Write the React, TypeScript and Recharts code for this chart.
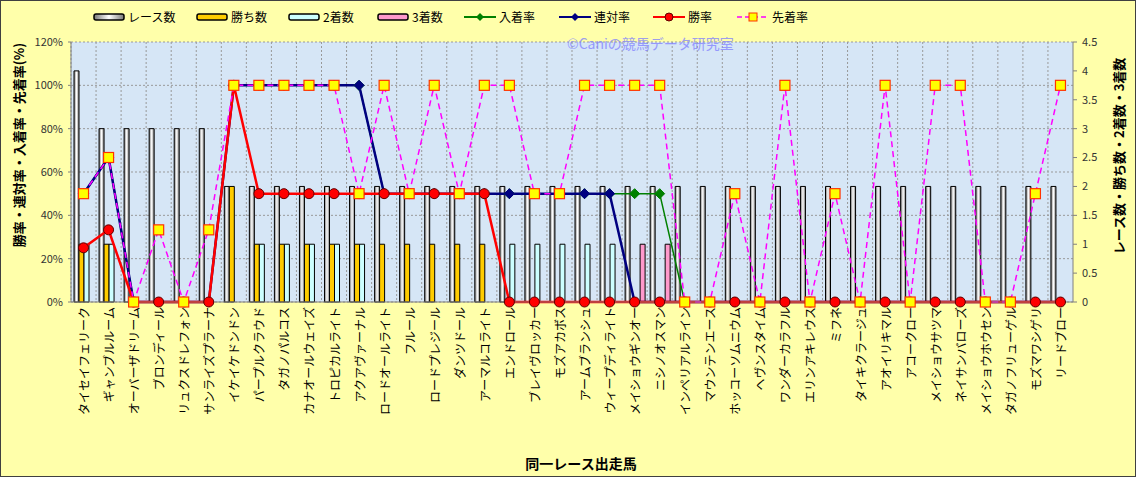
import React from "react";
import {
  Bar,
  CartesianGrid,
  ComposedChart,
  Legend,
  Line,
  XAxis,
  YAxis,
} from "recharts";

const horses = [
  "タイセイフェリーク",
  "ギャンブルルーム",
  "オーバーザドリーム",
  "ブロンディール",
  "リュクスドレフォン",
  "サンライズプラーナ",
  "イケイケドンドン",
  "パープルクラウド",
  "タガノパルコス",
  "カナオールウェイズ",
  "トロピカルライト",
  "アクアヴァーナル",
  "ロードオールライト",
  "フルール",
  "ロードプレジール",
  "ダンツドール",
  "アーマルコライト",
  "エンドロール",
  "ブレイヴロッカー",
  "モズアカボス",
  "アームブランシュ",
  "ウィープディライト",
  "メイショウギンオー",
  "ニシノオスマン",
  "インペリアルライン",
  "マウンテンエース",
  "ホッコーソムニウム",
  "ヘヴンスタイム",
  "ワンダーカラフル",
  "エリンアキレウス",
  "ミフネ",
  "タイキクラージュ",
  "アオイリキマル",
  "アコークロー",
  "メイショウサツマ",
  "ネイサンバローズ",
  "メイショウホウセン",
  "タガノフリューゲル",
  "モズマワシゲリ",
  "リードブロー",
];

// counts (right axis)
const raceCounts = [4, 3, 3, 3, 3, 3, 2, 2, 2, 2, 2, 2, 2, 2, 2, 2, 2, 2, 2, 2, 2, 2, 2, 2, 2, 2, 2, 2, 2, 2, 2, 2, 2, 2, 2, 2, 2, 2, 2, 2];
const winCounts = [1, 1, 0, 0, 0, 0, 2, 1, 1, 1, 1, 1, 1, 1, 1, 1, 1, 0, 0, 0, 0, 0, 0, 0, 0, 0, 0, 0, 0, 0, 0, 0, 0, 0, 0, 0, 0, 0, 0, 0];
const secondCounts = [1, 1, 0, 0, 0, 0, 0, 1, 1, 1, 1, 1, 0, 0, 0, 0, 0, 1, 1, 1, 1, 1, 0, 0, 0, 0, 0, 0, 0, 0, 0, 0, 0, 0, 0, 0, 0, 0, 0, 0];
const thirdCounts = [0, 0, 0, 0, 0, 0, 0, 0, 0, 0, 0, 0, 0, 0, 0, 0, 0, 0, 0, 0, 0, 0, 1, 1, 0, 0, 0, 0, 0, 0, 0, 0, 0, 0, 0, 0, 0, 0, 0, 0];

// rates in % (left axis)
const placeRate = [50, 66.7, 0, 0, 0, 0, 100, 100, 100, 100, 100, 100, 50, 50, 50, 50, 50, 50, 50, 50, 50, 50, 50, 50, 0, 0, 0, 0, 0, 0, 0, 0, 0, 0, 0, 0, 0, 0, 0, 0];
const rentaiRate = [50, 66.7, 0, 0, 0, 0, 100, 100, 100, 100, 100, 100, 50, 50, 50, 50, 50, 50, 50, 50, 50, 50, 0, 0, 0, 0, 0, 0, 0, 0, 0, 0, 0, 0, 0, 0, 0, 0, 0, 0];
const winRate = [25, 33.3, 0, 0, 0, 0, 100, 50, 50, 50, 50, 50, 50, 50, 50, 50, 50, 0, 0, 0, 0, 0, 0, 0, 0, 0, 0, 0, 0, 0, 0, 0, 0, 0, 0, 0, 0, 0, 0, 0];
const aheadRate = [50, 66.7, 0, 33.3, 0, 33.3, 100, 100, 100, 100, 100, 50, 100, 50, 100, 50, 100, 100, 50, 50, 100, 100, 100, 100, 0, 0, 50, 0, 100, 0, 50, 0, 100, 0, 100, 100, 0, 0, 50, 100];

const leftTicks = [0, 20, 40, 60, 80, 100, 120];
const rightTicks = [0, 0.5, 1, 1.5, 2, 2.5, 3, 3.5, 4, 4.5];

const data = horses.map((name, i) => ({
  name,
  races: raceCounts[i],
  wins: winCounts[i],
  seconds: secondCounts[i],
  thirds: thirdCounts[i],
  place: placeRate[i],
  rentai: rentaiRate[i],
  win: winRate[i],
  ahead: aheadRate[i],
}));

const FONT = '"Noto Sans CJK JP", "Noto Sans", sans-serif';

function RedDot(p: any) {
  if (p.cx == null || p.cy == null) return null;
  return <circle key={p.index} cx={p.cx} cy={p.cy} r={5} fill="#ff0000" stroke="#600000" strokeWidth={1} />;
}

function diamond(color: string, r: number) {
  return (p: any) => {
    if (p.cx == null || p.cy == null) return null;
    const { cx, cy } = p;
    return (
      <polygon
        key={p.index}
        points={`${cx},${cy - r} ${cx + r},${cy} ${cx},${cy + r} ${cx - r},${cy}`}
        fill={color}
        stroke={color}
      />
    );
  };
}

function SquareDot(p: any) {
  if (p.cx == null || p.cy == null) return null;
  return (
    <rect key={p.index} x={p.cx - 5} y={p.cy - 5} width={10} height={10} fill="#ffff00" stroke="#ff3300" strokeWidth={1.2} />
  );
}

function NameTick({ x, y, payload }: any) {
  return (
    <text
      x={x}
      y={y}
      transform={`rotate(-90 ${x} ${y})`}
      textAnchor="end"
      dominantBaseline="central"
      fontSize={12}
      fontFamily={FONT}
      fill="#000"
    >
      {payload.value}
    </text>
  );
}

const legendItems = [
  { label: "レース数", kind: "bar", fill: "url(#raceGrad)", left: 93 },
  { label: "勝ち数", kind: "bar", fill: "#ffcc00", left: 196 },
  { label: "2着数", kind: "bar", fill: "#ccffff", left: 288 },
  { label: "3着数", kind: "bar", fill: "#ff99cc", left: 377 },
  { label: "入着率", kind: "diamond", color: "#008000", left: 464 },
  { label: "連対率", kind: "diamond", color: "#000080", left: 559 },
  { label: "勝率", kind: "circle", color: "#ff0000", left: 653 },
  { label: "先着率", kind: "square", color: "#ff00ff", left: 737 },
];

function LegendIcon({ item }: any) {
  if (item.kind === "bar") {
    return (
      <svg width={32} height={12}>
        <defs>
          <linearGradient id="raceGradL" x1="0" y1="0" x2="1" y2="0">
            <stop offset="0%" stopColor="#777" />
            <stop offset="50%" stopColor="#fff" />
            <stop offset="100%" stopColor="#777" />
          </linearGradient>
        </defs>
        <rect x={1} y={3} width={30} height={6} rx={2} fill={item.fill === "url(#raceGrad)" ? "url(#raceGradL)" : item.fill} stroke="#000" strokeWidth={1.5} />
      </svg>
    );
  }
  return (
    <svg width={32} height={12}>
      <line x1={0} y1={6} x2={32} y2={6} stroke={item.color} strokeWidth={item.kind === "square" ? 1.5 : 2} strokeDasharray={item.kind === "square" ? "5 3" : undefined} />
      {item.kind === "diamond" && <polygon points="16,2 20,6 16,10 12,6" fill={item.color} />}
      {item.kind === "circle" && <circle cx={16} cy={6} r={4} fill="#ff0000" stroke="#600000" />}
      {item.kind === "square" && <rect x={12} y={2} width={8} height={8} fill="#ffff00" stroke="#ff3300" />}
    </svg>
  );
}

function LegendContent() {
  return (
    <div style={{ position: "relative", width: 1136, height: 20 }}>
      {legendItems.map((item) => (
        <div
          key={item.label}
          style={{ position: "absolute", left: item.left, top: 0, display: "flex", alignItems: "center", gap: 3, fontSize: 12, fontFamily: FONT, color: "#000", whiteSpace: "nowrap" }}
        >
          <LegendIcon item={item} />
          <span>{item.label}</span>
        </div>
      ))}
    </div>
  );
}

export default function App() {
  return (
    <div
      style={{
        position: "absolute",
        left: 0,
        top: 0,
        width: 1136,
        height: 477,
        background: "#ffffaa",
        boxShadow: "inset 0 0 0 1px #404040",
        fontFamily: FONT,
      }}
    >
      <ComposedChart
        width={1136}
        height={477}
        data={data}
        margin={{ top: 42, right: 0, bottom: 0, left: 0 }}
        barGap={0}
        barSize={5}
      >
        <defs>
          <linearGradient id="raceGrad" x1="0" y1="0" x2="1" y2="0">
            <stop offset="0%" stopColor="#777" />
            <stop offset="50%" stopColor="#fff" />
            <stop offset="100%" stopColor="#777" />
          </linearGradient>
        </defs>
        <CartesianGrid
          yAxisId="left"
          fill="#d6e6f6"
          fillOpacity={1}
          stroke="#999"
          strokeDasharray="2 2"
          verticalCoordinatesGenerator={({ offset }: any) =>
            horses.map((_, i) => offset.left + (offset.width * i) / horses.length)
          }
        />
        <XAxis
          dataKey="name"
          interval={0}
          height={175}
          tickSize={4}
          tickMargin={1}
          tickLine={false}
          axisLine={{ stroke: "#808080" }}
          tick={<NameTick />}
          label={{
            value: "同一レース出走馬",
            content: () => (
              <text x={581} y={463} textAnchor="middle" dominantBaseline="central" fontSize={14} fontWeight="bold" fontFamily={FONT} fill="#000">
                同一レース出走馬
              </text>
            ),
          }}
        />
        <YAxis
          yAxisId="left"
          width={71}
          domain={[0, 120]}
          ticks={leftTicks}
          tickFormatter={(v) => `${v}%`}
          tick={{ fontSize: 11, fill: "#333", fontFamily: FONT }}
          tickSize={3}
          tickMargin={5}
          tickLine={{ stroke: "#808080" }}
          axisLine={{ stroke: "#808080" }}
          label={{
            value: "勝率・連対率・入着率・先着率(%)",
            content: () => (
              <text x={18} y={145} transform="rotate(-90 18 145)" textAnchor="middle" dominantBaseline="central" fontSize={13} fontWeight="bold" fontFamily={FONT} fill="#000">
                勝率・連対率・入着率・先着率(%)
              </text>
            ),
          }}
        />
        <YAxis
          yAxisId="right"
          orientation="right"
          width={63}
          domain={[0, 4.5]}
          ticks={rightTicks}
          tick={{ fontSize: 11, fill: "#333", fontFamily: FONT }}
          tickSize={4}
          tickMargin={5}
          tickLine={{ stroke: "#808080" }}
          axisLine={{ stroke: "#808080" }}
          label={{
            value: "レース数・勝ち数・2着数・3着数",
            content: () => (
              <text x={1118} y={156} transform="rotate(-90 1118 156)" textAnchor="middle" dominantBaseline="central" fontSize={13} fontWeight="bold" fontFamily={FONT} fill="#000">
                レース数・勝ち数・2着数・3着数
              </text>
            ),
          }}
        />
        <Legend
          verticalAlign="middle"
          align="center"
          layout="horizontal"
          wrapperStyle={{ top: 8, left: 0, width: 1136, height: 20 }}
          content={<LegendContent />}
        />
        <Bar yAxisId="right" dataKey="races" name="レース数" fill="url(#raceGrad)" stroke="#000" strokeWidth={1} isAnimationActive={false} />
        <Bar yAxisId="right" dataKey="wins" name="勝ち数" fill="#ffcc00" stroke="#000" strokeWidth={1} isAnimationActive={false} />
        <Bar yAxisId="right" dataKey="seconds" name="2着数" fill="#ccffff" stroke="#000" strokeWidth={1} isAnimationActive={false} />
        <Bar yAxisId="right" dataKey="thirds" name="3着数" fill="#ff99cc" stroke="#000" strokeWidth={1} isAnimationActive={false} />
        <Line yAxisId="left" type="linear" dataKey="place" name="入着率" stroke="#008000" strokeWidth={1.5} dot={diamond("#008000", 5)} activeDot={false} isAnimationActive={false} />
        <Line yAxisId="left" type="linear" dataKey="rentai" name="連対率" stroke="#000080" strokeWidth={2.5} dot={diamond("#000080", 5)} activeDot={false} isAnimationActive={false} />
        <Line yAxisId="left" type="linear" dataKey="win" name="勝率" stroke="#ff0000" strokeWidth={2.5} dot={RedDot} activeDot={false} isAnimationActive={false} />
        <Line yAxisId="left" type="linear" dataKey="ahead" name="先着率" stroke="#ff00ff" strokeWidth={1.5} strokeDasharray="6 4" dot={SquareDot} activeDot={false} isAnimationActive={false} />
      </ComposedChart>
      <div
        style={{
          position: "absolute",
          left: 567,
          top: 33,
          fontSize: 14,
          color: "#8080ff",
          opacity: 0.75,
          fontFamily: FONT,
          whiteSpace: "nowrap",
          pointerEvents: "none",
        }}
      >
        ©Caniの競馬データ研究室
      </div>
    </div>
  );
}
